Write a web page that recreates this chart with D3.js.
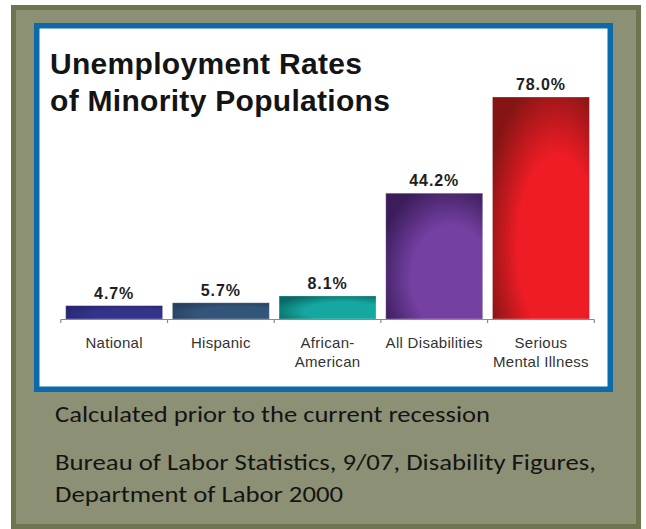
<!DOCTYPE html>
<html>
<head>
<meta charset="utf-8">
<script src="https://cdn.jsdelivr.net/npm/d3@7"></script>
<style>
html,body{margin:0;padding:0;background:#fff;}
svg{display:block;}
</style>
</head>
<body>
<svg id="chart" width="646" height="529"></svg>
<script>
// ---- data ----
const categories = [["National"], ["Hispanic"], ["African-", "American"], ["All Disabilities"], ["Serious", "Mental Illness"]];
const values = [4.7, 5.7, 8.1, 44.2, 78.0];
const valueLabels = ["4.7%", "5.7%", "8.1%", "44.2%", "78.0%"];
const titleLines = ["Unemployment Rates", "of Minority Populations"];
const footnotes = ["Calculated prior to the current recession", "Bureau of Labor Statistics, 9/07, Disability Figures,", "Department of Labor 2000"];

const svg = d3.select("#chart");
const defs = svg.append("defs");

// gradients per bar
const gradSpecs = [
  {id: "g0", inner: "#34338a", outer: "#27266f"},
  {id: "g1", inner: "#34557a", outer: "#26405f"},
  {id: "g2", inner: "#14a8a0", outer: "#0a6966"},
  {id: "g3", inner: "#7440a2", outer: "#3b1d5b"},
  {id: "g4", inner: "#ee1c25", outer: "#851515"}
];
gradSpecs.forEach(g => {
  const rg = defs.append("radialGradient").attr("id", g.id)
    .attr("cx", "65%").attr("cy", "65%").attr("r", "75%").attr("fx", "70%").attr("fy", "70%");
  rg.append("stop").attr("offset", "0%").attr("stop-color", g.inner);
  rg.append("stop").attr("offset", "55%").attr("stop-color", g.inner);
  rg.append("stop").attr("offset", "100%").attr("stop-color", g.outer);
});

// olive panel
svg.append("rect").attr("x", 13.5).attr("y", 7.5).attr("width", 625).attr("height", 519)
  .attr("fill", "#8c9175").attr("stroke", "#6e744f").attr("stroke-width", 5);

// blue framed white box
svg.append("rect").attr("x", 36.75).attr("y", 25.75).attr("width", 573.5).attr("height", 363.5)
  .attr("fill", "#ffffff").attr("stroke", "#0c6aab").attr("stroke-width", 5.5);

// title
const title = svg.append("text").attr("font-family", "Liberation Sans, Arial, sans-serif")
  .attr("font-weight", "bold").attr("font-size", 30).attr("fill", "#141414")
  .attr("letter-spacing", 0.3);
titleLines.forEach((t, i) => {
  title.append("tspan").attr("x", 50).attr("y", 74 + i * 37).text(t);
});

// scales
const x = d3.scaleBand().domain(d3.range(values.length)).range([60.8, 594.3])
  .paddingInner(0.0913).paddingOuter(0.0457);
const y = d3.scaleLinear().domain([0, 78]).range([319, 97]);

// bars
svg.append("g").selectAll("rect").data(values).join("rect")
  .attr("x", (d, i) => x(i))
  .attr("y", d => y(d))
  .attr("width", x.bandwidth())
  .attr("height", d => y(0) - y(d))
  .attr("fill", (d, i) => `url(#${gradSpecs[i].id})`)
  .attr("stroke", "#ffffff").attr("stroke-opacity", 0.35).attr("stroke-width", 0.8);

// value labels
svg.append("g").selectAll("text").data(values).join("text")
  .attr("x", (d, i) => x(i) + x.bandwidth() / 2)
  .attr("y", d => y(d) - 7)
  .attr("text-anchor", "middle")
  .attr("font-family", "Liberation Sans, Arial, sans-serif")
  .attr("font-weight", "bold").attr("font-size", 16).attr("letter-spacing", 0.9)
  .attr("fill", "#1e1e1e")
  .text((d, i) => valueLabels[i]);

// axis baseline with ticks at band boundaries
const step = x.step();
const x0 = x(0) - x.paddingInner() * step / 2;
const boundaries = d3.range(values.length + 1).map(i => x0 + i * step);
const axisG = svg.append("g");
axisG.append("line").attr("x1", boundaries[0]).attr("x2", boundaries[boundaries.length - 1])
  .attr("y1", 319.5).attr("y2", 319.5).attr("stroke", "#8a8a8a").attr("stroke-width", 1.2);
axisG.selectAll("line.tick").data(boundaries).join("line").attr("class", "tick")
  .attr("x1", d => d).attr("x2", d => d).attr("y1", 319.5).attr("y2", 323)
  .attr("stroke", "#8a8a8a").attr("stroke-width", 1.2);

// category labels
const catG = svg.append("g");
categories.forEach((lines, i) => {
  const t = catG.append("text")
    .attr("text-anchor", "middle")
    .attr("font-family", "Liberation Sans, Arial, sans-serif")
    .attr("font-size", 15).attr("letter-spacing", 0.3).attr("fill", "#333333");
  lines.forEach((l, j) => {
    t.append("tspan").attr("x", x(i) + x.bandwidth() / 2).attr("y", 348 + j * 18.7).text(l);
  });
});

// footnotes
const footY = [422, 470, 501.5];
const footW = [435, 541, 288];
footnotes.forEach((f, i) => {
  svg.append("text").attr("x", 55).attr("y", footY[i])
    .attr("font-family", "Carlito, Lato, sans-serif")
    .attr("font-size", 23).attr("fill", "#141414")
    .attr("textLength", footW[i]).attr("lengthAdjust", "spacingAndGlyphs")
    .text(f);
});
</script>
</body>
</html>
